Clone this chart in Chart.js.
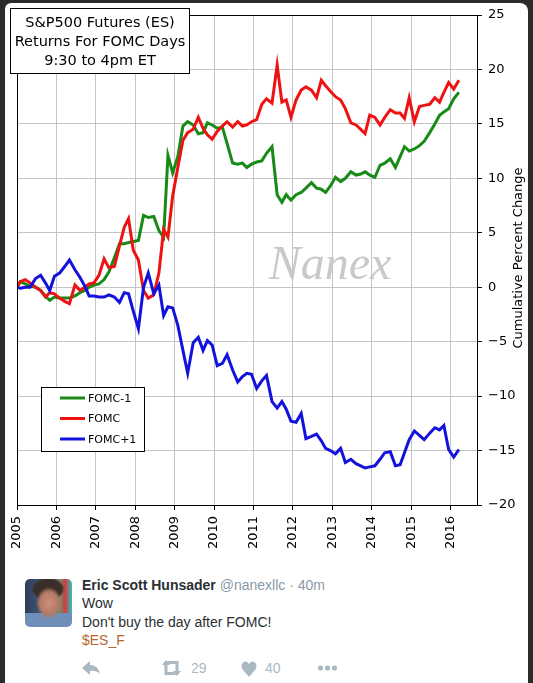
<!DOCTYPE html>
<html>
<head>
<meta charset="utf-8">
<script src="https://cdn.jsdelivr.net/npm/chart.js@4.4.1/dist/chart.umd.min.js"></script>
<style>
body { margin:0; background:#2b2b2b; width:533px; height:683px; overflow:hidden; position:relative; }
#card { position:absolute; left:5px; top:3px; width:523px; height:700px; background:#fff; border-radius:6px 8px 0 0; }
#myChart { position:absolute; left:0; top:0; }
.tw { position:absolute; font-family:"Liberation Sans", Arial, sans-serif; font-size:14px; line-height:18px; color:#292f33; white-space:nowrap; }
#avatar { position:absolute; left:25px; top:579px; width:47px; height:48px; border-radius:5px; overflow:hidden;
  background:
    radial-gradient(ellipse 13px 16px at 24px 24px, #c98f78 0%, #b47a64 70%, rgba(0,0,0,0) 100%),
    radial-gradient(ellipse 17px 12px at 23px 10px, #3a2e28 0%, #3a2e28 80%, rgba(0,0,0,0) 100%),
    linear-gradient(180deg, rgba(0,0,0,0) 70%, #6f8fb8 70%),
    linear-gradient(90deg, #2c3e5a 0%, #445a78 40%, #7a8a6a 75%, #d23b3b 85%, #35c0c0 100%); }
</style>
</head>
<body>
<div id="card"></div>
<canvas id="myChart" width="533" height="560"></canvas>

<div id="avatar"></div>
<div class="tw" style="left:82px; top:576px;"><b>Eric Scott Hunsader</b> <span style="color:#8899a6">@nanexllc · 40m</span></div>
<div class="tw" style="left:82px; top:594px;">Wow</div>
<div class="tw" style="left:82px; top:613px;">Don't buy the day after FOMC!</div>
<div class="tw" style="left:82px; top:631px; color:#b8652e;">$ES_F</div>

<svg style="position:absolute; left:0; top:655px;" width="400" height="28">
  <g fill="#aab8c2">
    <path d="M82 13 L90 6 L90 10 Q98 10 100 19 Q96 15 90 16 L90 20 Z"/>
    <path d="M162 10 L166 5 L170 10 L167.5 10 L167.5 17 L174 17 L176 20 L164.5 20 L164.5 10 Z"/>
    <path d="M181 16 L177 21 L173 16 L175.5 16 L175.5 9 L169 9 L167 6 L178.5 6 L178.5 16 Z"/>
    <path d="M249 22 L243 15 Q240 11 243 7.5 Q246.5 5 249 9 Q251.5 5 255 7.5 Q258 11 255 15 Z"/>
    <circle cx="320.5" cy="13" r="2.6"/>
    <circle cx="327.5" cy="13" r="2.6"/>
    <circle cx="334.5" cy="13" r="2.6"/>
  </g>
</svg>
<div class="tw" style="left:191px; top:659px; color:#aab8c2;">29</div>
<div class="tw" style="left:265px; top:659px; color:#aab8c2;">40</div>

<script>
// FOMC meeting dates as decimal years
const meetingDates = [
  2005.00,
  2005.08, 2005.21, 2005.33, 2005.47, 2005.60, 2005.72, 2005.83, 2005.95,
  2006.08, 2006.21, 2006.33, 2006.47, 2006.60, 2006.72, 2006.83, 2006.95,
  2007.08, 2007.21, 2007.33, 2007.47, 2007.60, 2007.72, 2007.83, 2007.95,
  2008.08, 2008.21, 2008.33, 2008.47, 2008.60, 2008.72, 2008.83, 2008.95,
  2009.08, 2009.21, 2009.33, 2009.47, 2009.60, 2009.72, 2009.83, 2009.95,
  2010.08, 2010.21, 2010.33, 2010.47, 2010.60, 2010.72, 2010.83, 2010.95,
  2011.08, 2011.21, 2011.33, 2011.47, 2011.60, 2011.72, 2011.83, 2011.95,
  2012.08, 2012.21, 2012.33, 2012.47, 2012.60, 2012.72, 2012.83, 2012.95,
  2013.08, 2013.21, 2013.33, 2013.47, 2013.60, 2013.72, 2013.83, 2013.95,
  2014.08, 2014.21, 2014.33, 2014.47, 2014.60, 2014.72, 2014.83, 2014.95,
  2015.08, 2015.21, 2015.33, 2015.47, 2015.60, 2015.72, 2015.83, 2015.95,
  2016.08, 2016.21
];
const fomcMinus1 = [
  0,
  0.5, 0.3, 0.1, 0.0, -0.3, -0.8, -1.2, -0.9,
  -1.0, -1.0, -1.0, -0.8, -0.5, -0.3, 0.0, 0.2,
  0.3, 0.7, 1.4, 2.7, 4.0, 4.0, 4.1, 4.2,
  4.3, 6.6, 6.4, 6.5, 5.2, 4.6, 12.1, 10.5,
  12.0, 14.8, 15.2, 14.9, 14.1, 14.2, 15.1, 14.9,
  14.6, 14.7, 13.2, 11.4, 11.3, 11.4, 11.0, 11.3,
  11.5, 11.6, 12.3, 12.9, 8.5, 7.8, 8.5, 8.0,
  8.5, 8.7, 9.1, 9.6, 9.1, 9.0, 8.7, 9.3,
  10.1, 9.7, 10.0, 10.6, 10.3, 10.4, 10.6, 10.3,
  10.1, 11.2, 11.4, 11.8, 11.0, 12.0, 12.9, 12.5,
  12.7, 13.0, 13.4, 14.2, 15.0, 15.8, 16.1, 16.4,
  17.3, 17.9
];
const fomc = [
  0,
  0.5, 0.7, 0.4, 0.0, -0.3, -0.9, -0.5, -0.6,
  -1.0, -1.3, -1.5, 0.2, -0.3, 0.0, 0.3, 0.4,
  1.1, 2.6, 1.8, 1.9, 3.8, 5.5, 6.3, 3.4,
  2.5, -0.3, -1.0, -0.7, 1.3, 5.3, 4.6, 8.4,
  11.0, 13.5, 14.2, 14.5, 15.6, 14.6, 14.0, 13.6,
  14.3, 14.8, 15.2, 14.7, 15.2, 14.8, 14.9, 15.2,
  15.4, 16.8, 17.3, 16.9, 20.4, 17.0, 17.2, 15.6,
  17.2, 18.1, 18.4, 18.1, 17.4, 19.0, 18.5, 18.0,
  17.5, 17.2, 16.4, 15.1, 14.9, 14.5, 14.1, 15.8,
  15.6, 14.9, 15.6, 16.3, 16.0, 16.0, 15.5, 17.4,
  15.2, 16.6, 16.7, 16.8, 17.4, 17.0, 17.9, 18.8,
  18.2, 19.0
];
const fomcPlus1 = [
  0,
  -0.1, 0.0, 0.0, 0.8, 1.1, 0.4, -0.3, 1.0,
  1.3, 1.9, 2.5, 1.6, 0.9, 0.1, -0.8, -0.8,
  -0.9, -0.9, -0.7, -0.9, -1.4, -0.5, -0.6, -2.2,
  -3.8, 0.0, 1.3, -0.6, 0.2, -2.6, -1.8, -1.9,
  -3.5, -5.8, -7.9, -5.1, -4.6, -5.8, -4.9, -5.3,
  -7.2, -7.0, -6.2, -7.6, -8.7, -8.2, -7.9, -8.0,
  -9.3, -8.6, -8.1, -10.5, -11.1, -10.5, -11.2, -12.3,
  -12.4, -11.6, -13.9, -13.7, -13.5, -14.1, -14.8, -15.0,
  -15.3, -14.8, -16.1, -15.8, -16.2, -16.4, -16.6, -16.5,
  -16.4, -15.8, -15.2, -15.1, -16.4, -16.3, -15.2, -14.0,
  -13.2, -13.6, -14.0, -13.4, -12.9, -13.1, -12.7, -14.9,
  -15.6, -14.9
];
const yearTicks = [2005, 2006, 2007, 2008, 2009, 2010, 2011, 2012, 2013, 2014, 2015, 2016];
const seriesNames = ['FOMC-1', 'FOMC', 'FOMC+1'];
const titleLines = ['S&P500 Futures (ES)', 'Returns For FOMC Days', '9:30 to 4pm ET'];

const GREEN = '#178a17', RED = '#ee1212', BLUE = '#1212dc';

function pts(vals) {
  return meetingDates.map((d, i) => ({ x: d, y: vals[i] }));
}

const extras = {
  id: 'extras',
  beforeDatasetsDraw(chart) {
    const ctx = chart.ctx;
    ctx.save();
    ctx.font = 'italic 48px "Liberation Serif"';
    ctx.fillStyle = '#c9c9c9';
    ctx.textAlign = 'center';
    ctx.fillText('Nanex', 330, 279);
    ctx.restore();
  },
  afterDraw(chart) {
    const ctx = chart.ctx, a = chart.chartArea;
    ctx.save();
    ctx.strokeStyle = '#000';
    ctx.lineWidth = 1;
    ctx.strokeRect(Math.round(a.left) + 0.5, Math.round(a.top) + 0.5,
      Math.round(a.right - a.left), Math.round(a.bottom - a.top));

    // right axis title, reading bottom to top
    ctx.save();
    ctx.translate(519, 258);
    ctx.rotate(-Math.PI / 2);
    ctx.font = '13px "DejaVu Sans"';
    ctx.fillStyle = '#000';
    ctx.textAlign = 'center';
    ctx.textBaseline = 'middle';
    ctx.fillText('Cumulative Percent Change', 0, 0);
    ctx.restore();

    // title box
    ctx.fillStyle = '#fff';
    ctx.fillRect(10, 8, 179, 65);
    ctx.strokeRect(10.5, 8.5, 179, 65);
    ctx.fillStyle = '#000';
    ctx.font = '14.5px "DejaVu Sans"';
    ctx.textAlign = 'center';
    titleLines.forEach((t, i) => ctx.fillText(t, 100, 27 + i * 19));

    // legend box
    ctx.fillStyle = '#fff';
    ctx.fillRect(41, 387, 103, 64);
    ctx.strokeRect(41.5, 387.5, 103, 64);
    const cols = [GREEN, RED, BLUE];
    ctx.font = '11px "DejaVu Sans"';
    ctx.textAlign = 'left';
    ctx.textBaseline = 'middle';
    seriesNames.forEach((n, i) => {
      const y = 398 + i * 20.5;
      ctx.strokeStyle = cols[i];
      ctx.lineWidth = 3;
      ctx.beginPath();
      ctx.moveTo(60, y);
      ctx.lineTo(85, y);
      ctx.stroke();
      ctx.fillStyle = '#000';
      ctx.fillText(n, 88, y + 1);
    });
    ctx.restore();
  }
};

let ctx = document.getElementById('myChart').getContext('2d');
let myChart = new Chart(ctx, {
  type: 'line',
  data: {
    datasets: [
      { label: seriesNames[0], data: pts(fomcMinus1), borderColor: GREEN, borderWidth: 3, pointRadius: 0, order: 3 },
      { label: seriesNames[1], data: pts(fomc), borderColor: RED, borderWidth: 3, pointRadius: 0, order: 2 },
      { label: seriesNames[2], data: pts(fomcPlus1), borderColor: BLUE, borderWidth: 3, pointRadius: 0, order: 1 }
    ]
  },
  options: {
    responsive: false,
    animation: false,
    layout: { padding: { left: 17, top: 15, right: 0, bottom: 0 } },
    plugins: { legend: { display: false }, tooltip: { enabled: false } },
    scales: {
      x: {
        type: 'linear',
        min: 2005,
        max: 2016.67,
        afterBuildTicks: s => { s.ticks = yearTicks.map(v => ({ value: v })); },
        afterFit: s => { s.height = 55; },
        grid: { color: '#c4c4c4', tickColor: '#000', tickLength: 5 },
        border: { color: '#000' },
        ticks: {
          minRotation: 90, maxRotation: 90, padding: 6,
          color: '#000', font: { family: 'DejaVu Sans', size: 13 },
          callback: v => String(v)
        }
      },
      y: {
        position: 'right',
        min: -20,
        max: 25,
        afterFit: s => { s.width = 56; },
        grid: { color: '#c4c4c4', tickColor: '#000', tickLength: 5 },
        border: { color: '#000' },
        ticks: {
          stepSize: 5, padding: 6,
          color: '#000', font: { family: 'DejaVu Sans', size: 13 },
          callback: v => v < 0 ? '\u2212' + Math.abs(v) : String(v)
        }
      }
    }
  },
  plugins: [extras]
});
</script>
</body>
</html>
